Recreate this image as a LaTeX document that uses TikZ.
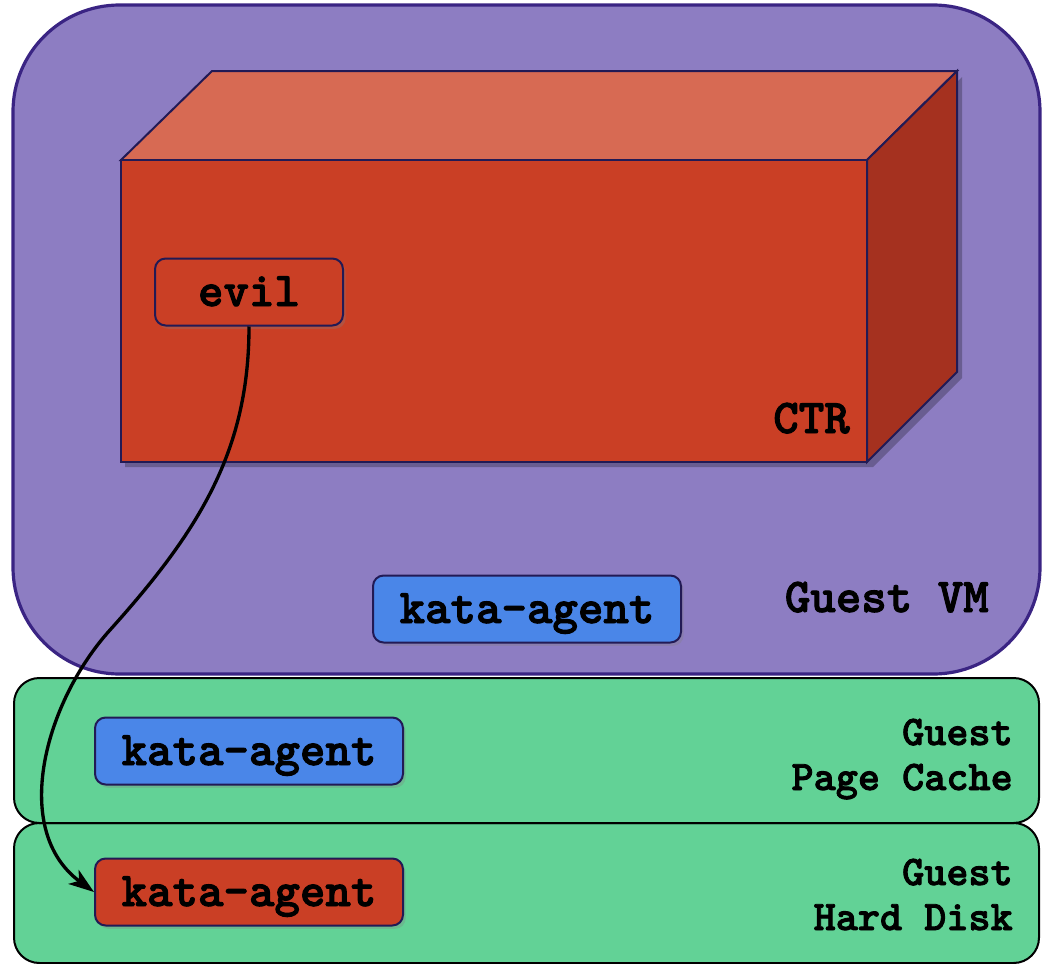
\documentclass[tikz,border=0pt]{standalone}
\usepackage{fontspec}
\newfontfamily\codefont{lmmonolt10-bold.otf}[FakeBold=2]
\usetikzlibrary{arrows.meta,shadows}
\definecolor{vmfill}{HTML}{8D7DC2}
\definecolor{vmline}{HTML}{3A2483}
\definecolor{ctrfront}{HTML}{CA3F25}
\definecolor{ctrtop}{HTML}{D76A53}
\definecolor{ctrside}{HTML}{A5311F}
\definecolor{agentblue}{HTML}{4A86E8}
\definecolor{memgreen}{HTML}{62D296}
\definecolor{boxline}{HTML}{221A55}
\tikzset{
  bigfont/.style={font=\codefont\fontsize{36.4}{42}\selectfont},
  smallfont/.style={font=\codefont\fontsize{31.6}{38}\selectfont},
  procbox/.style={draw=boxline, line width=1.5pt, rounded corners=8pt, inner sep=0pt,
    minimum height=50.25pt, text height=21pt, text depth=0pt, bigfont,
    drop shadow={opacity=0.3, shadow xshift=2pt, shadow yshift=-2.5pt}},
  cubeface/.style={draw=boxline, line width=1.5pt, line join=miter},
  layerbox/.style={draw=black, line width=1.5pt, fill=memgreen, rounded corners=19pt},
  flow/.style={line width=2.5pt, -{Stealth[length=19pt, width=13pt, inset=5pt]}},
}
\begin{document}
\begin{tikzpicture}[x=0.75pt, y=-0.75pt]
\useasboundingbox (0,0) rectangle (1050,964);
% Guest VM
\draw[line width=2.4pt, draw=vmline, fill=vmfill, rounded corners=80pt] (13,5) rectangle (1040,674);
% layers
\draw[layerbox] (14,823) rectangle (1039,963);
\draw[layerbox] (14,678) rectangle (1039,823);
% cube
\fill[black, opacity=0.25] (125,166) -- (873,166) -- (962,77) -- (962,378) -- (873,467) -- (125,467) -- cycle;
\filldraw[cubeface, fill=ctrtop] (121,160) -- (212,71) -- (957,71) -- (867,160) -- cycle;
\filldraw[cubeface, fill=ctrside] (867,160) -- (957,71) -- (957,372) -- (867,462) -- cycle;
\filldraw[cubeface, fill=ctrfront] (121,160) rectangle (867,462);
\node[bigfont, anchor=base east, inner sep=0pt] (ctrlabel) at (850,433) {CTR};
% nodes
\node[procbox, fill=ctrfront, minimum width=141pt] (evil) at (249,292) {evil};
\node[procbox, fill=agentblue, minimum width=231pt] (vmagent) at (527,609) {kata-agent};
\node[procbox, fill=agentblue, minimum width=231pt] (pcagent) at (249,751) {kata-agent};
\node[procbox, fill=ctrfront, minimum width=231pt] (hdagent) at (249,892) {kata-agent};
\node[bigfont, anchor=base east, inner sep=0pt] (vmlabel) at (989,612) {Guest VM};
\node[smallfont, anchor=base east, inner sep=0pt] (pclabela) at (1013,745) {Guest};
\node[smallfont, anchor=base east, inner sep=0pt] (pclabelb) at (1013,790) {Page Cache};
\node[smallfont, anchor=base east, inner sep=0pt] (hdlabela) at (1013,885) {Guest};
\node[smallfont, anchor=base east, inner sep=0pt] (hdlabelb) at (1013,930) {Hard Disk};
% arrow
\draw[flow] (evil.south) .. controls (249,450) and (200,530) .. (110,630)
  .. controls (45,702) and (10,830) .. (hdagent.west);
\end{tikzpicture}
\end{document}
